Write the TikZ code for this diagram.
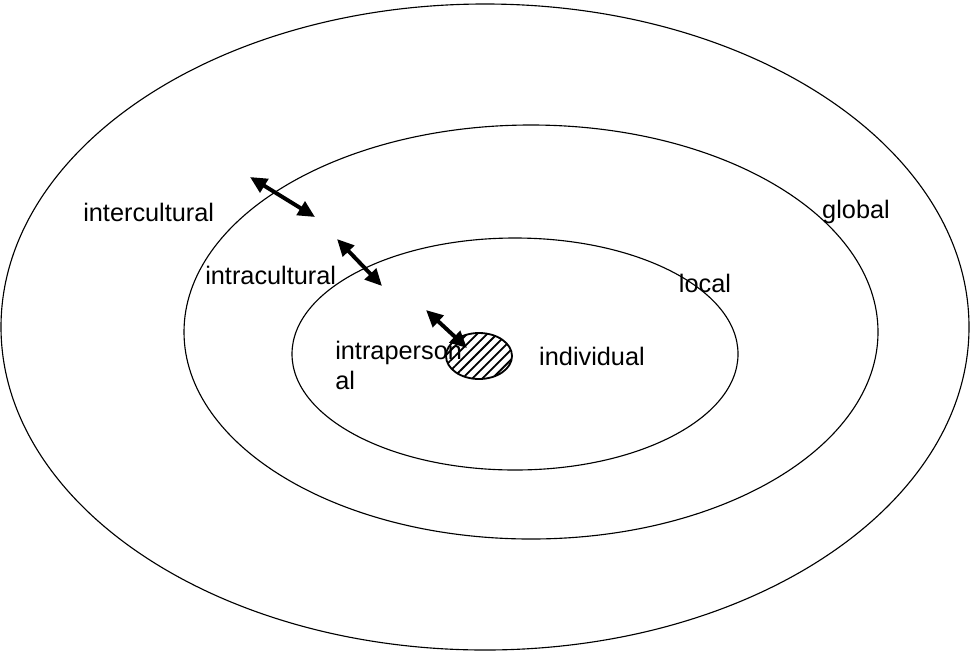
\documentclass[tikz,border=0pt]{standalone}
\usepackage{fontspec}
\setmainfont{Liberation Sans}
\usetikzlibrary{arrows.meta,patterns.meta}
\begin{document}
\begin{tikzpicture}[x=0.025cm,y=-0.025cm]
    \useasboundingbox (0,0) rectangle (970,652);

    \begin{scope}[every path/.style={draw, line width=0.8pt}]
        \draw (485,327) ellipse (484 and 323);
        \draw (531,332) ellipse (347 and 207);
        \draw (515,354) ellipse (223 and 116);
    \end{scope}

    \fill[pattern={Lines[angle=45,distance=5pt,line width=1.3pt]}] (479,356) ellipse (33 and 23);
    \draw[line width=1.3pt] (479,356) ellipse (33 and 23);

    \begin{scope}[every node/.style={font=\fontsize{18}{19}\selectfont, inner sep=0pt}]
        \node[anchor=west] (inter) at (83,212) {intercultural};
        \node (global) at (856,212) {global};
        \node[anchor=west] (intra) at (205,275) {intracultural};
        \node (local) at (705,283) {local};
        \node[anchor=north west, align=left, font=\fontsize{18}{21.5}\selectfont] (pers) at (335,341) {intraperson\\al};
        \node (indiv) at (592,356) {individual};
    \end{scope}

    \begin{scope}[every path/.style={line width=2.8pt, {Triangle[length=12pt,width=11pt]}-{Triangle[length=12pt,width=11pt]}}]
        \coordinate (a1) at (250,177);
        \coordinate (b1) at (315,217);
        \coordinate (a2) at (337,239);
        \coordinate (b2) at (382,286);
        \coordinate (a3) at (426,310);
        \coordinate (b3) at (467,348);
        \draw (a1) -- (b1);
        \draw (a2) -- (b2);
        \draw (a3) -- (b3);
    \end{scope}
\end{tikzpicture}
\end{document}
